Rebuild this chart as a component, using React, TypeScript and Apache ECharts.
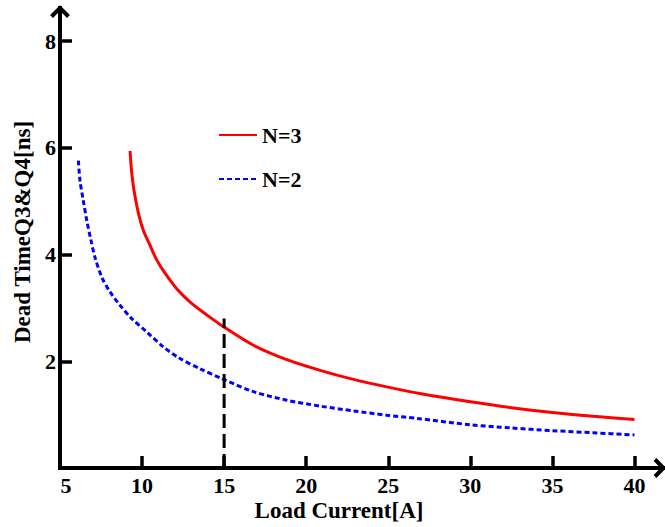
import React, { useEffect, useRef } from "react";
import * as echarts from "echarts";

const seriesNames = ["N=3", "N=2"];
const n3Data: [number, number][] = [
  [9.27, 5.94], [9.35, 5.6], [9.5, 5.22], [9.78, 4.77], [10.08, 4.45],
  [10.49, 4.17], [10.89, 3.9], [11.4, 3.65], [12.11, 3.36], [12.93, 3.11],
  [13.94, 2.87], [15, 2.64], [16.79, 2.3], [18.82, 2.03], [20.85, 1.83],
  [22.88, 1.66], [24.91, 1.52], [27, 1.39], [30, 1.24], [32.5, 1.13],
  [35, 1.04], [37.5, 0.97], [40, 0.91],
];
const n2Data: [number, number][] = [
  [6.12, 5.76], [6.22, 5.38], [6.42, 5.01], [6.63, 4.64], [6.87, 4.29],
  [7.13, 3.95], [7.54, 3.58], [8.05, 3.3], [8.66, 3.05], [9.37, 2.8],
  [10.28, 2.55], [11.3, 2.27], [12.21, 2.07], [13.54, 1.86], [14.9, 1.67],
  [16.79, 1.43], [18.82, 1.27], [20.85, 1.16], [22.88, 1.07], [24.91, 0.99],
  [26.74, 0.93], [30, 0.81], [32.5, 0.75], [35, 0.7], [37.5, 0.66], [40, 0.62],
];
const markerLine: [number, number][] = [[15, 0], [15, 2.8]];
const xTickLabels = [5, 10, 15, 20, 25, 30, 35, 40];
const xTicks = [10, 15, 20, 25, 30, 35, 40];
const yTickLabels = [2, 4, 6, 8];
const X_MIN = 5;
const X_MAX = 41.77;
const Y_MIN = 0;
const Y_MAX = 8.62;
const xName = "Load Current[A]";
const yName = "Dead TimeQ3&Q4[ns]";

const FONT = "'Liberation Serif', 'Times New Roman', serif";

export default function App() {
  const ref = useRef<HTMLDivElement>(null);
  useEffect(() => {
    if (!ref.current) return;
    const chart = echarts.init(ref.current, undefined, { renderer: "svg" });
    const labelStyle = {
      fontFamily: FONT,
      fontWeight: "bold" as const,
      fontSize: 22,
      color: "#000",
    };
    chart.setOption({
      animation: false,
      backgroundColor: "#fff",
      grid: { left: 60, right: 1.5, top: 8, bottom: 59, outerBoundsMode: "none" },
      legend: {
        data: seriesNames,
        orient: "vertical",
        left: 218,
        top: 124,
        padding: 0,
        itemWidth: 38,
        itemHeight: 14,
        itemGap: 22,
        itemStyle: { opacity: 0, borderWidth: 0 },
        textStyle: { ...labelStyle },
      },
      xAxis: {
        type: "value",
        min: X_MIN,
        max: X_MAX,
        splitLine: { show: false },
        axisLine: { lineStyle: { color: "#000", width: 4, cap: "square" } },
        axisTick: {
          inside: true,
          length: 12,
          lineStyle: { color: "#000", width: 3.5 },
          customValues: xTicks,
        },
        axisLabel: {
          ...labelStyle,
          margin: 6,
          customValues: xTickLabels,
          formatter: (v: number) => (v === X_MIN ? `{p|${v}}` : String(v)),
          rich: { p: { ...labelStyle, padding: [0, 0, 0, 12] } },
        },
      },
      yAxis: {
        type: "value",
        min: Y_MIN,
        max: Y_MAX,
        splitLine: { show: false },
        axisLine: { lineStyle: { color: "#000", width: 4, cap: "square" } },
        axisTick: {
          inside: true,
          length: 12,
          lineStyle: { color: "#000", width: 3.5 },
          customValues: yTickLabels,
        },
        axisLabel: { ...labelStyle, margin: 4, customValues: yTickLabels },
      },
      series: [
        {
          name: seriesNames[0],
          type: "line",
          data: n3Data,
          symbol: "none",
          smooth: 0.3,
          lineStyle: { color: "#ff0000", width: 3 },
          itemStyle: { color: "#ff0000" },
        },
        {
          name: seriesNames[1],
          type: "line",
          data: n2Data,
          symbol: "none",
          smooth: 0.3,
          lineStyle: { color: "#0000ff", width: 3, type: [5, 3] },
          itemStyle: { color: "#0000ff" },
        },
        {
          name: "marker",
          type: "line",
          data: markerLine,
          symbol: "none",
          lineStyle: { color: "#000", width: 3, type: [14, 6] },
        },
      ],
    });
    const top = chart.convertToPixel({ gridIndex: 0 }, [X_MIN, Y_MAX]) as number[];
    const right = chart.convertToPixel({ gridIndex: 0 }, [X_MAX, Y_MIN]) as number[];
    const a = 8.5;
    chart.setOption({
      graphic: [
        {
          type: "polyline",
          shape: { points: [[top[0] - a, top[1] + a], [top[0], top[1]], [top[0] + a, top[1] + a]] },
          style: { stroke: "#000", lineWidth: 4, fill: "none" },
        },
        {
          type: "polyline",
          shape: { points: [[right[0] - a, right[1] - a], [right[0], right[1]], [right[0] - a, right[1] + a]] },
          style: { stroke: "#000", lineWidth: 4, fill: "none" },
        },
        {
          type: "text",
          x: 339,
          y: 510,
          style: {
            text: xName,
            font: `bold 23px ${FONT}`,
            fill: "#000",
            textAlign: "center",
            textVerticalAlign: "middle",
          },
        },
        {
          type: "text",
          x: 22,
          y: 232,
          rotation: Math.PI / 2,
          style: {
            text: yName,
            font: `bold 23px ${FONT}`,
            fill: "#000",
            textAlign: "center",
            textVerticalAlign: "middle",
          },
        },
      ],
    });
    return () => chart.dispose();
  }, []);
  return (
    <div
      ref={ref}
      style={{ position: "fixed", left: 0, top: 0, width: 665, height: 527 }}
    />
  );
}
